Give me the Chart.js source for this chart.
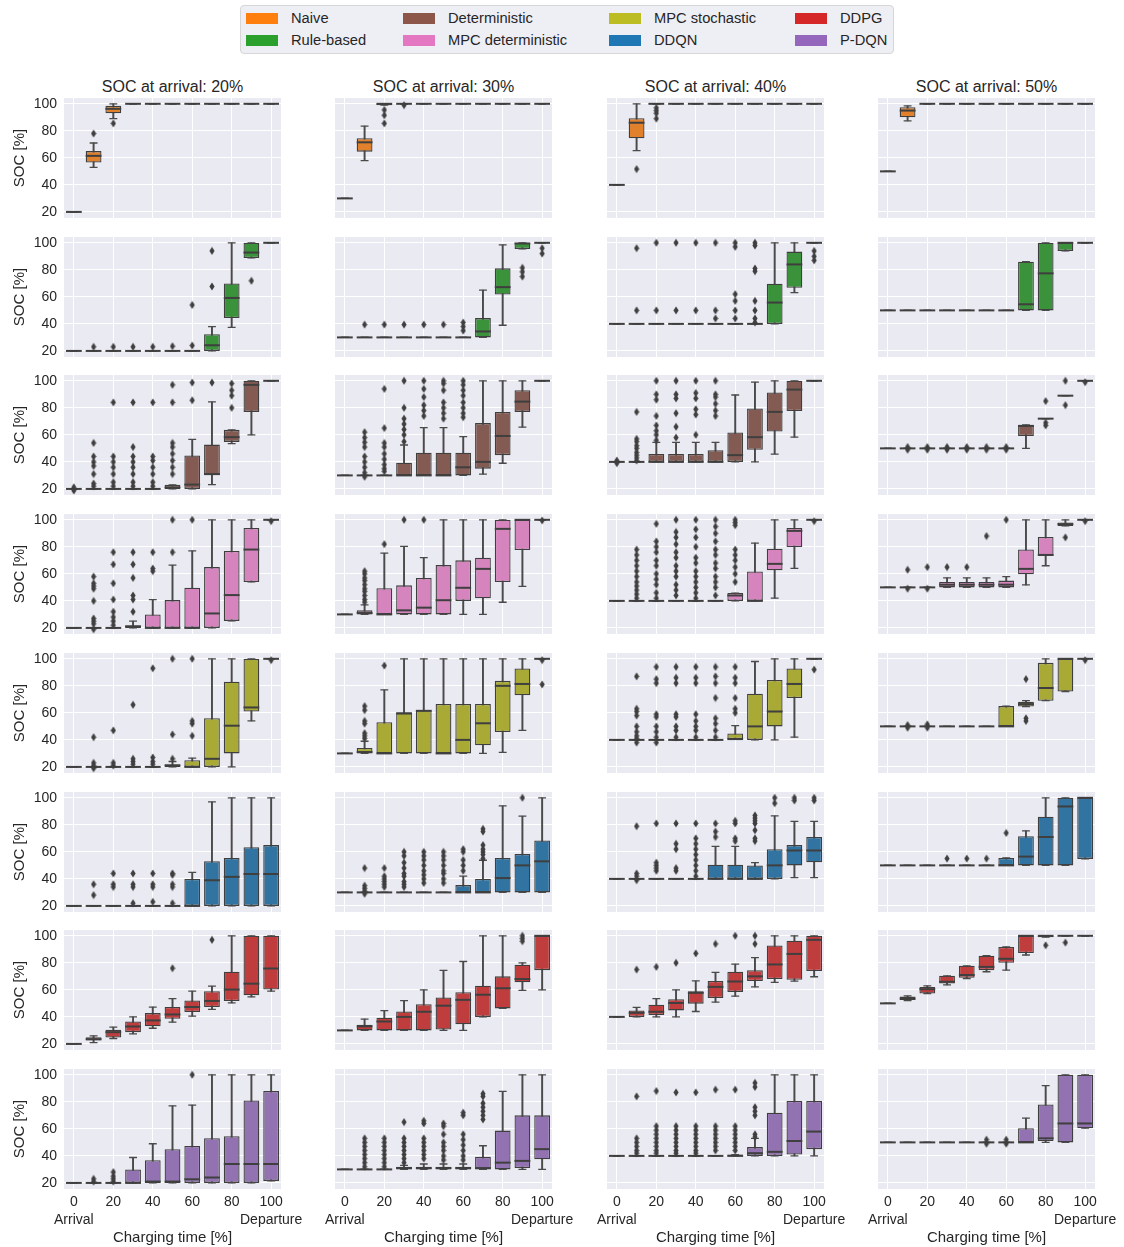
<!DOCTYPE html>
<html>
<head>
<meta charset="utf-8">
<script src="https://cdn.jsdelivr.net/npm/chart.js@4.4.1/dist/chart.umd.min.js"></script>
<style>
  html, body { margin: 0; padding: 0; background: #fff; overflow: hidden; }
  body { width: 1124px; height: 1247px; position: relative; font-family: "Liberation Sans", Arial, sans-serif; color: #262626; }
  .panel { position: absolute; }
  .coltitle { position: absolute; font-size: 16px; text-align: center; width: 260px; line-height: 18px; }
  .legend { position: absolute; left: 240px; top: 5px; width: 654px; height: 49px; box-sizing: border-box;
            background: rgba(234,234,242,0.8); border: 1px solid #d6d6d6; border-radius: 4px; }
  .lg-item { position: absolute; font-size: 14.7px; line-height: 16px; white-space: nowrap; }
  .lg-patch { position: absolute; width: 32px; height: 11px; }
</style>
</head>
<body>
<div class="legend" id="legend"></div>
<script>
// ---- categories and labels ----
const xLabels = ['0', '10', '20', '30', '40', '50', '60', '70', '80', '90', '100'];
const xEndLabels = ['Arrival', 'Departure'];
const yTicks = [20, 40, 60, 80, 100];
const arrivalSoc = [20, 30, 40, 50];
const methodNames = ['Naive', 'Rule-based', 'Deterministic', 'MPC deterministic', 'MPC stochastic', 'DDQN', 'DDPG', 'P-DQN'];
const legendColors = ['#ff7f0e', '#2ca02c', '#8c564b', '#e377c2', '#bcbd22', '#1f77b4', '#d62728', '#9467bd'];
const boxColors = ['#e1812c', '#3a923a', '#845b53', '#d684bd', '#a9aa35', '#3274a1', '#c03d3e', '#9372b2'];

// Each panel: per charging-time step [whisker low, Q1, median, Q3, whisker high]
const naiveBoxes = [
  [[20,20,20,20,20],[53,56.5,61.5,65,71],[89,93,96.3,98.5,100],[100,100,100,100,100],[100,100,100,100,100],[100,100,100,100,100],[100,100,100,100,100],[100,100,100,100,100],[100,100,100,100,100],[100,100,100,100,100],[100,100,100,100,100]],
  [[30,30,30,30,30],[58,64.6,71.5,74.5,83.5],[99,99,100,100,100],[100,100,100,100,100],[100,100,100,100,100],[100,100,100,100,100],[100,100,100,100,100],[100,100,100,100,100],[100,100,100,100,100],[100,100,100,100,100],[100,100,100,100,100]],
  [[40,40,40,40,40],[65.3,74.5,86,89.4,100],[100,100,100,100,100],[100,100,100,100,100],[100,100,100,100,100],[100,100,100,100,100],[100,100,100,100,100],[100,100,100,100,100],[100,100,100,100,100],[100,100,100,100,100],[100,100,100,100,100]],
  [[50,50,50,50,50],[87.4,90,95,97.5,98.5],[100,100,100,100,100],[100,100,100,100,100],[100,100,100,100,100],[100,100,100,100,100],[100,100,100,100,100],[100,100,100,100,100],[100,100,100,100,100],[100,100,100,100,100],[100,100,100,100,100]]
];
const naiveOutliers = [
  [[],[78],[85.5],[],[],[],[],[],[],[],[]],
  [[],[],[95.5,91.5,85.5],[99],[],[],[],[],[],[],[]],
  [[],[51.7],[97,95,93,89],[],[],[],[],[],[],[],[]],
  [[],[],[],[],[],[],[],[],[],[],[]]
];

const ruleBoxes = [
  [[20,20,20,20,20],[20,20,20,20,20],[20,20,20,20,20],[20,20,20,20,20],[20,20,20,20,20],[20,20,20,20,20],[20,20,20,20,20],[20,20,24.2,32.4,38],[37.4,44.3,59.2,69.9,100],[88.8,88.8,92.8,100,100],[100,100,100,100,100]],
  [[30,30,30,30,30],[30,30,30,30,30],[30,30,30,30,30],[30,30,30,30,30],[30,30,30,30,30],[30,30,30,30,30],[30,30,30,30,30],[30,30,34.4,44.3,65],[39,61.7,67.2,81.1,98.5],[95.5,95.5,99.5,100,100],[100,100,100,100,100]],
  [[40,40,40,40,40],[40,40,40,40,40],[40,40,40,40,40],[40,40,40,40,40],[40,40,40,40,40],[40,40,40,40,40],[40,40,40,40,40],[40,40,40,40,40],[40,40,55.8,69.7,100],[63.2,66.7,84,93.5,100],[100,100,100,100,100]],
  [[50,50,50,50,50],[50,50,50,50,50],[50,50,50,50,50],[50,50,50,50,50],[50,50,50,50,50],[50,50,50,50,50],[50,50,50,50,50],[50,50,54.5,86,86],[50,50,77.4,100,100],[94,94,100,100,100],[100,100,100,100,100]]
];
const ruleOutliers = [
  [[],[23],[23],[23],[23],[23.5],[54,24],[94,67.7],[],[71.9],[]],
  [[],[39.5],[39.5],[39.5],[39.5],[39.5],[41,38,35],[],[],[81.5,78.5,75],[96,92]],
  [[],[96,50],[100,50],[100,50],[100,50],[100,50,44],[100,97,62,57,50,44],[100,98,81,79,57,50,44,41],[],[],[94,90,87]],
  [[],[],[],[],[],[],[],[],[],[],[]]
];

const detBoxes = [
  [[20,20,20,20,20],[20,20,20,20,20],[20,20,20,20,20],[20,20,20,20,20],[20,20,20,20,20],[20,20,21,23,23],[20,20,23.2,44.8,56.7],[23.2,30.2,31,52.8,84.4],[53.5,54.8,58.3,63.7,63.7],[60,77,97,100,100],[100,100,100,100,100]],
  [[30,30,30,30,30],[30,30,30,30,30],[30,30,30,30,30],[30,30,30,39.4,52.5],[30,30,30,46.8,65.3],[30,30,30,46.8,65.3],[30,30,36,46.8,58.7],[31,35,40,68.7,100],[39,45,59.2,77,100],[65.7,77,84.6,93,100],[100,100,100,100,100]],
  [[40,40,40,40,40],[40,40,40,40,40],[40,40,40,45.8,54.5],[40,40,40,45.8,54.5],[40,40,40,45.8,54.5],[40,40,40,48.6,54.5],[40,40,45,61.7,89.5],[40,49,58.3,79.6,99],[45.8,62.5,77,91.3,100],[58.3,77.7,93.5,100,100],[100,100,100,100,100]],
  [[50,50,50,50,50],[50,50,50,50,50],[50,50,50,50,50],[50,50,50,50,50],[50,50,50,50,50],[50,50,50,50,50],[50,50,50,50,50],[50,59.2,66.6,67.4,67.4],[72,72,72,72,72],[89,89,89,89,89],[100,100,100,100,100]]
];
const detOutliers = [
  [[21.2,18.8],[54,44,40,37,31,24,22],[84,44,40,36,31,25,22],[84,51,44,40,36,31,25,22],[84,44,41,36,31,25,22],[97,84,54,51,46,41,36,31],[98.7,85.6],[98.7],[98,93,89,80],[],[]],
  [[],[62,58,54.5,51,44,40,36,32,29],[94,65,54,51,46,42,38,35,33],[100,80,72,68,64,60,55],[100,94,88,82,78,74],[100,98,93,84,80,76,72],[100,97,93,89,84,80,76,73],[],[],[],[]],
  [[41,39],[77,57,55,52,50,47,45,43,41],[100,90,86,74,67,63,60,56],[100,90,87,76,66,58],[100,91,87,79,75,60],[100,90,88,83,78,74],[],[],[],[],[]],
  [[],[51,49],[51,49],[51,49],[51,49],[51,49],[51,49],[],[85,69,67],[100,82],[99]]
];

const mpcDetBoxes = [
  [[20,20,20,20,20],[20,20,20,20,20],[20,20,20,20,20],[20,20,21,22,25],[20,20,20,30,41],[20,20,20,40.6,66.4],[20,20,20,49.8,77],[20,20,30.7,65,100],[25.2,25.2,44.3,77,100],[54,54,78,94,100],[100,100,100,100,100]],
  [[30,30,30,30,30],[30,30,31,33,37],[30,30,30,49.3,75.3],[30,30,33,51.5,80.4],[30,30,35,57,72],[30,30,40.5,66.5,100],[30,40,49.7,70,100],[30,42,63.7,72,100],[39,54,93.3,100,100],[50.8,77.7,100,100,100],[100,100,100,100,100]],
  [[40,40,40,40,40],[40,40,40,40,40],[40,40,40,40,40],[40,40,40,40,40],[40,40,40,40,40],[40,40,40,40,40],[40,40,44,45.8,45.8],[40,40,40,61.7,82.8],[42,62.7,67.4,78.6,100],[64,79.8,91.8,94,100],[100,100,100,100,100]],
  [[50,50,50,50,50],[50,50,50,50,50],[50,50,50,50,50],[50,50,52,54,57],[50,50,52,54,57],[50,50,52,54,57],[50,50,52,55,58],[51.8,59.7,63.7,78,100],[66,73.4,74,87.3,100],[95.5,95.5,96.8,98,100],[100,100,100,100,100]]
];
const mpcDetOutliers = [
  [[],[58,53,51,49,40,27,25,23,19],[76,67,53,41,32,28,25,22],[76,67,57,44,41,32],[76,64,62],[100,76],[100],[],[],[],[99]],
  [[],[62,60,57,55,52,49,47,44,41,39],[82],[100],[100],[],[],[],[],[],[99.5]],
  [[],[78,74,70,66,62,58,54,51,48,45,42],[97,84,80,76,70,66,60,56,52,46,42],[100,91,87,82,76,72,66,62,58,52,48,44],[100,93,87,80,72,68,62,58,54,50,46,42],[100,95,90,84,78,74,68,64,58,54,50,44],[100,98,96,78,74,70,65,60,54],[],[],[],[99]],
  [[],[63,49],[65,49],[65],[65],[88],[100],[],[],[87],[99]]
];

const mpcStoBoxes = [
  [[20,20,20,20,20],[20,20,20,20,20],[20,20,20,20,20],[20,20,20,20,20],[20,20,20,20,20],[20,20,21,22,24],[20,20,20,25,26.5],[20,20,26,56,100],[20,30,50.5,83,100],[54,61,64,100,100],[100,100,100,100,100]],
  [[30,30,30,30,30],[30,30,31,34,39],[30,30,30,53,77],[30,30,59.5,60.5,100],[30,30,61.5,62,100],[30,30,30,66.6,100],[30,30,40,66.6,100],[30,36,52.3,66.6,100],[30.7,45.8,80,83.7,100],[47,73,81.4,92.8,100],[100,100,100,100,100]],
  [[40,40,40,40,40],[40,40,40,40,40],[40,40,40,40,40],[40,40,40,40,40],[40,40,40,40,40],[40,40,40,40,40],[40.6,40.6,40.6,44.8,50.5],[40,40,50,74.2,98],[40,50,61,84.3,100],[42,71,81.4,92.8,100],[100,100,100,100,100]],
  [[50,50,50,50,50],[50,50,50,50,50],[50,50,50,50,50],[50,50,50,50,50],[50,50,50,50,50],[50,50,50,50,50],[50,50,50,65,65],[64.7,64.7,66.5,68.3,69],[69,69,78.4,97,100],[75.8,75.8,100,100,100],[100,100,100,100,100]]
];
const mpcStoOutliers = [
  [[],[42,23,21,19],[47,23,21],[66,26,24,22],[93,27,24,22],[100,44,26],[100,54,52,43],[],[],[],[99]],
  [[],[65,62,54,52,45,43,41],[95],[],[],[],[],[],[],[],[99,81]],
  [[],[87,63,61,58,50,46,43,41,38],[94,85,82,59,57,50,46,42,38],[94,86,82,59,57,50,47,42],[94,86,82,59,54,50,47,42],[94,87,82,71,56,52,47,42],[94,86,82,71,63,60],[],[],[],[92]],
  [[],[51,49],[51.5,49],[],[],[],[],[85,56,54],[],[],[99]]
];

const ddqnBoxes = [
  [[20,20,20,20,20],[20,20,20,20,20],[20,20,20,20,20],[20,20,20,20,20],[20,20,20,20,20],[20,20,20,20,20],[20,20,20,40,44.8],[20,20,39,53,97],[20,20,41.5,55.5,100],[20,20,43.6,63.5,100],[20,20,43.6,65,100]],
  [[30,30,30,30,30],[30,30,30,30,30],[30,30,30,30,30],[30,30,30,30,30],[30,30,30,30,30],[30,30,30,30,30],[30,30,30,35.4,42],[30,30,30,40,53.8],[30,30,40.6,55.5,94],[30,30,50,58.5,86.4],[30,30,53,68.5,100]],
  [[40,40,40,40,40],[40,40,40,40,40],[40,40,40,40,40],[40,40,40,40,40],[40,40,40,40,40],[40,40,40,50.5,64],[40,40,40,50.5,64],[40,40,40,50,52],[40,40,50,62,86.6],[41,50,61,65,82.6],[41,52.3,61,71,82.6]],
  [[50,50,50,50,50],[50,50,50,50,50],[50,50,50,50,50],[50,50,50,50,50],[50,50,50,50,50],[50,50,50,50,50],[50,50,50,55.5,55.5],[50,50,56.5,71.5,75.6],[50,50,71,86,100],[50,50,93.6,100,100],[54.8,54.8,100,100,100]]
];
const ddqnOutliers = [
  [[],[36,28],[44,36,34],[44,36,34,22],[44,36,34,23],[44,43,36,34,22],[],[],[],[],[]],
  [[],[48,35,33,31,29],[48,42,40,38,36,34],[60,57,52,48,44,42,38,36,34],[60,57,54,50,46,43,40,37],[60,57,54,50,46,44,40,37],[62,60,54,50,46],[77,75,65,62,60,58,55],[],[100],[]],
  [[],[79,44,42,39],[81,52,50,48,46],[81,66,62,48,46],[81,70,66,62,58,54,50,46,42],[81,75,71],[83,81,70,68],[87,85,83,81,76,70,68],[100,96],[100,98],[100,98]],
  [[],[],[],[55],[55],[55],[74],[],[],[],[]]
];

const ddpgBoxes = [
  [[20,20,20,20,20],[21,22.5,23.5,25,26],[24,24.7,28.7,30.4,32.4],[27.5,28.7,32.9,36.6,40],[31.6,33,37.4,42.8,47.3],[36.1,38.6,41.8,47.3,53.5],[40.6,43.6,47.3,52.2,59],[45.5,47.3,51.8,59,62.7],[50.3,51.8,60.2,73.4,100],[54.8,56,64.6,100,100],[59,60.2,75.8,100,100]],
  [[30,30,30,30,30],[30,30,33,34.2,38.4],[30,30,36.6,39.4,44.6],[30,30,40,44,52],[30,30,43.8,49.3,60],[30,30.7,48.3,54.3,74.4],[30,34.6,52.6,58.2,81],[40,40,56.4,63,100],[46.3,46.3,61.2,70,100],[59.6,65.6,68,78.6,80],[60,74.6,100,100,100]],
  [[40,40,40,40,40],[40,40,43,44.8,47],[40,41.4,43.8,49,53.5],[40,44.8,50.3,53,60],[44,49.8,57.8,59,66.6],[51,54,62.2,66.6,72.9],[55.3,58.5,66.2,73.4,79],[62.2,66.5,70,74.6,83.8],[65.5,68,78.8,92.8,100],[66.5,67.4,86.6,96.3,100],[69.7,74,97,100,100]],
  [[50,50,50,50,50],[52,52.5,53.5,55,55.5],[57.3,57.3,60.5,62.2,63],[63.7,64.7,66,70.4,70.4],[68.4,68.9,71,77.8,77.8],[73.4,74.6,77,85.3,85.3],[74.6,80,83,91.8,91.8],[85.8,87.3,100,100,100],[99,99,100,100,100],[100,100,100,100,100],[100,100,100,100,100]]
];
const ddpgOutliers = [
  [[],[],[],[],[],[76],[],[97],[],[],[]],
  [[],[],[],[],[],[],[],[],[],[100,98,96],[]],
  [[],[75],[77],[80],[87],[94],[100],[100,94],[],[],[]],
  [[],[],[],[],[],[],[],[],[93],[95],[]]
];

const pdqnBoxes = [
  [[20,20,20,20,20],[20,20,20,20,20],[20,20,20,20,20],[20,20,20,30,38.8],[20,20,21,36.8,49],[20,20,21,45,77],[20,20,22.7,47.3,77.6],[20,20,24,53,100],[20,20,34,54.5,100],[20,20,34,81,100],[21.5,21.5,34,88,100]],
  [[30,30,30,30,30],[30,30,30,30,30],[30,30,30,30,30],[30,30,31,32,33],[30,30,31,32,34],[30,30,31,32,34],[30,30,31,32,34],[30,30,31,39.3,47.5],[30,30,35,58.7,87.7],[30,31,36.3,70,100],[30,37.5,45,70,100]],
  [[40,40,40,40,40],[40,40,40,40,40],[40,40,40,40,40],[40,40,40,40,40],[40,40,40,40,40],[40,40,40,40,40],[40,40,40,41,41],[40,40,42,46.5,53],[40,40,43,72,100],[40,41,51,80.7,100],[40,45,58,80.7,100]],
  [[50,50,50,50,50],[50,50,50,50,50],[50,50,50,50,50],[50,50,50,50,50],[50,50,50,50,50],[50,50,50,50,50],[50,50,50,50,50],[50,50,50,60.5,67.9],[50,51,53,78,92],[50,50,64,100,100],[60.5,60.5,64,100,100]]
];
const pdqnOutliers = [
  [[],[23,21],[28,25,23,21],[],[],[],[100],[],[],[],[]],
  [[],[53,50,47,44,41,38,35,32],[53,50,47,44,41,38,35,32],[65,53,50,47,44,41,38,35],[66,64,53,50,47,44,41,38],[64,62,56,50,47,44,40,37],[72,70,56,52,48,44,40,37],[86,84,79,76,73,70,67],[],[],[]],
  [[],[84,53,50,47,44,42],[88,62,59,56,53,50,47,44,42],[87,62,59,56,53,50,47,44,42],[87,62,59,56,53,50,47,44,42],[89,62,59,56,53,50,47,44],[89,62,59,56,53,50,47,44],[94,91,76,73,70,56,54],[],[],[]],
  [[],[],[],[],[],[52,49],[52,49],[],[],[],[]]
];

const allBoxes = [naiveBoxes, ruleBoxes, detBoxes, mpcDetBoxes, mpcStoBoxes, ddqnBoxes, ddpgBoxes, pdqnBoxes];
const allOutliers = [naiveOutliers, ruleOutliers, detOutliers, mpcDetOutliers, mpcStoOutliers, ddqnOutliers, ddpgOutliers, pdqnOutliers];

// ---- look & layout ----
const FONT = '"Liberation Sans", Arial, sans-serif';
const TEXT = '#262626';
const LINE = '#3f3f3f';
const WHISKER = '#4a4a4a';
const PLOT_BG = '#EAEAF2';
const PLOT_LEFT = [64, 335, 607, 878];
const PLOT_TOP0 = 98, ROW_STEP = 138.7;
const PLOT_W = 217, PLOT_H = 120;
const Y_MIN = 15.5, Y_MAX = 104.3;

Chart.defaults.font.family = FONT;
Chart.defaults.color = TEXT;

// legend
const legendEl = document.getElementById('legend');
const lgCols = [5, 162, 368, 554];
const lgTextOff = 45;
methodNames.forEach((name, i) => {
  const col = Math.floor(i / 2), row = i % 2;
  const patch = document.createElement('div');
  patch.className = 'lg-patch';
  patch.style.left = lgCols[col] + 'px';
  patch.style.top = (7 + row * 22) + 'px';
  patch.style.background = legendColors[i];
  legendEl.appendChild(patch);
  const t = document.createElement('div');
  t.className = 'lg-item';
  t.style.left = (lgCols[col] + lgTextOff) + 'px';
  t.style.top = (4 + row * 22) + 'px';
  t.textContent = name;
  legendEl.appendChild(t);
});

// column titles
arrivalSoc.forEach((soc, c) => {
  const d = document.createElement('div');
  d.className = 'coltitle';
  d.style.left = (PLOT_LEFT[c] + PLOT_W / 2 - 130) + 'px';
  d.style.top = '78px';
  d.textContent = 'SOC at arrival: ' + soc + '%';
  document.body.appendChild(d);
});

// thin diamond marker for fliers
const diamond = document.createElement('canvas');
diamond.width = 6; diamond.height = 9;
(function () {
  const g = diamond.getContext('2d');
  g.fillStyle = LINE;
  g.beginPath();
  g.moveTo(3, 0.5); g.lineTo(5.6, 4.5); g.lineTo(3, 8.5); g.lineTo(0.4, 4.5); g.closePath();
  g.fill();
})();

const plotBg = {
  id: 'plotBg',
  beforeDraw(chart) {
    const a = chart.chartArea, ctx = chart.ctx;
    ctx.save();
    ctx.fillStyle = PLOT_BG;
    ctx.fillRect(a.left, a.top, a.right - a.left, a.bottom - a.top);
    ctx.restore();
  }
};

function halfBox(chart) {
  const a = chart.chartArea;
  return a ? (a.right - a.left) / xLabels.length * 0.4 : 8;
}

function makePanel(r, c) {
  const stats = allBoxes[r][c];
  const outs = allOutliers[r][c];
  const bottom = r === methodNames.length - 1;
  const first = c === 0;
  const yW = first ? 57 : 0;
  const xH = bottom ? 61 : 0;
  const padLeft = first ? 0 : 30;
  const padTop = 4, padRight = bottom ? 40 : 2, padBottom = bottom ? 0 : 2;
  const plotTop = Math.round(PLOT_TOP0 + r * ROW_STEP);

  const wrap = document.createElement('div');
  wrap.className = 'panel';
  const W = padLeft + yW + PLOT_W + padRight;
  const H = padTop + PLOT_H + xH + padBottom;
  wrap.style.left = (PLOT_LEFT[c] - yW - padLeft) + 'px';
  wrap.style.top = (plotTop - padTop) + 'px';
  wrap.style.width = W + 'px';
  wrap.style.height = H + 'px';
  const cv = document.createElement('canvas');
  cv.width = W; cv.height = H;
  cv.style.width = W + 'px'; cv.style.height = H + 'px';
  wrap.appendChild(cv);
  document.body.appendChild(wrap);

  const fliers = [];
  outs.forEach((arr, i) => arr.forEach(v => fliers.push({ x: xLabels[i], y: v })));

  new Chart(cv, {
    type: 'bar',
    data: {
      labels: xLabels,
      datasets: [
        { // whiskers
          type: 'bar', data: stats.map(s => [s[0], s[4]]), grouped: false,
          backgroundColor: WHISKER, borderWidth: 0, barThickness: 1.3, order: 5
        },
        { // boxes
          type: 'bar', data: stats.map(s => [s[1], s[3]]), grouped: false,
          backgroundColor: boxColors[r], borderColor: LINE, borderWidth: 1.3, borderSkipped: false,
          barPercentage: 0.8, categoryPercentage: 1, order: 4
        },
        { // whisker caps (low)
          type: 'line', data: stats.map(s => s[0]), showLine: false,
          pointStyle: 'line', pointBorderColor: WHISKER, pointBorderWidth: 1.3,
          pointRadius: ctx => halfBox(ctx.chart) / 2, order: 3
        },
        { // whisker caps (high)
          type: 'line', data: stats.map(s => s[4]), showLine: false,
          pointStyle: 'line', pointBorderColor: WHISKER, pointBorderWidth: 1.3,
          pointRadius: ctx => halfBox(ctx.chart) / 2, order: 3
        },
        { // medians
          type: 'line', data: stats.map(s => s[2]), showLine: false,
          pointStyle: 'line', pointBorderColor: LINE, pointBorderWidth: 2,
          pointRadius: ctx => halfBox(ctx.chart), order: 2
        },
        { // fliers
          type: 'line', data: fliers, showLine: false,
          pointStyle: diamond, pointRadius: 3, order: 1
        }
      ]
    },
    options: {
      responsive: false,
      animation: false,
      events: [],
      devicePixelRatio: 1,
      layout: { autoPadding: false, padding: { left: padLeft, right: padRight, top: padTop, bottom: padBottom } },
      plugins: { legend: { display: false }, tooltip: { enabled: false }, title: { display: false } },
      scales: {
        x: {
          type: 'category',
          offset: true,
          border: { display: false },
          grid: {
            offset: false, drawTicks: false, lineWidth: 1,
            color: ctx => (ctx.index % 2 === 0 ? '#ffffff' : 'rgba(0,0,0,0)')
          },
          ticks: {
            display: bottom, autoSkip: false, maxRotation: 0, minRotation: 0, padding: 4,
            color: TEXT, font: { size: 14, lineHeight: 1.3 },
            callback: (v, i) => {
              if (i % 2) return '';
              if (i === 0) return [xLabels[i], xEndLabels[0]];
              if (i === xLabels.length - 1) return [xLabels[i], xEndLabels[1]];
              return xLabels[i];
            }
          },
          title: { display: bottom, text: 'Charging time [%]', color: TEXT, font: { size: 15 }, padding: { top: 0, bottom: 3 } },
          afterFit: s => { s.height = xH; s.paddingLeft = 0; s.paddingRight = 0; }
        },
        y: {
          type: 'linear', min: Y_MIN, max: Y_MAX,
          border: { display: false },
          grid: { color: '#ffffff', lineWidth: 1, drawTicks: false },
          afterBuildTicks: s => { s.ticks = yTicks.map(v => ({ value: v })); },
          ticks: { display: first, padding: 7, color: TEXT, font: { size: 14 } },
          title: { display: first, text: 'SOC [%]', color: TEXT, font: { size: 15 }, padding: { top: 4, bottom: 4 } },
          afterFit: s => { s.width = yW; s.paddingTop = 0; s.paddingBottom = 0; }
        }
      }
    },
    plugins: [plotBg]
  });
}

for (let r = 0; r < methodNames.length; r++) {
  for (let c = 0; c < arrivalSoc.length; c++) makePanel(r, c);
}
</script>
</body>
</html>
